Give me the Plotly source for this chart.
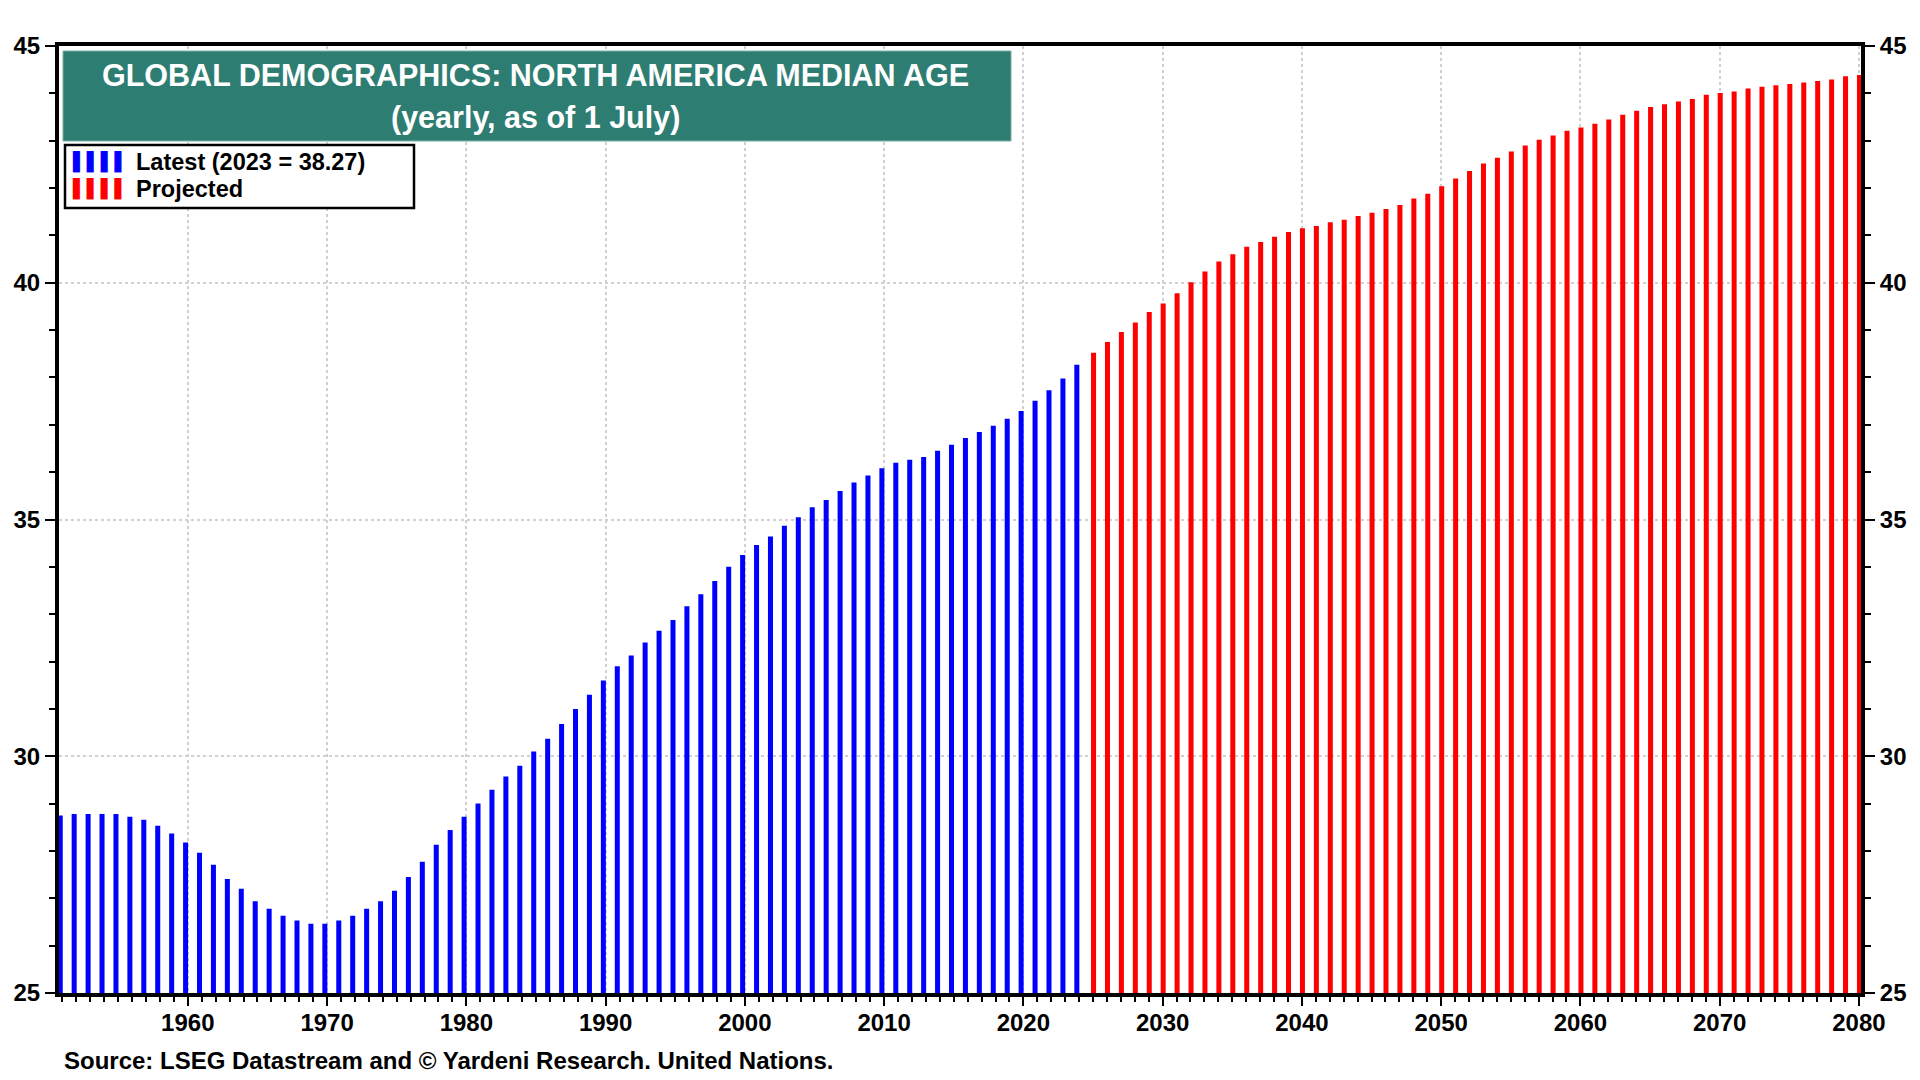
import plotly.graph_objects as go

# ---------------- data (median age, years) ----------------
blue_years = list(range(1950, 2024))
blue_values = [
    28.75, 28.78, 28.78, 28.78, 28.78, 28.72, 28.66, 28.53, 28.37, 28.18,  # 1950-59
    27.96, 27.71, 27.41, 27.20, 26.94, 26.78, 26.63, 26.53, 26.46, 26.46,  # 1960-69
    26.53, 26.63, 26.78, 26.94, 27.16, 27.45, 27.77, 28.13, 28.44, 28.72,  # 1970-79
    29.00, 29.29, 29.57, 29.80, 30.10, 30.37, 30.68, 31.00, 31.30, 31.60,  # 1980-89
    31.90, 32.13, 32.40, 32.65, 32.88, 33.17, 33.42, 33.70, 34.00, 34.25,  # 1990-99
    34.46, 34.64, 34.87, 35.05, 35.26, 35.41, 35.60, 35.78, 35.93, 36.08,  # 2000-09
    36.20, 36.26, 36.32, 36.45, 36.58, 36.72, 36.85, 36.98, 37.13, 37.29,  # 2010-19
    37.51, 37.73, 37.98, 38.27,                                            # 2020-23
]
red_years = list(range(2024, 2080))
red_values = [
    38.52, 38.75, 38.96, 39.16, 39.38, 39.56,                              # 2024-29
    39.78, 40.01, 40.24, 40.45, 40.60, 40.76, 40.86, 40.97, 41.07, 41.15,  # 2030-39
    41.20, 41.28, 41.33, 41.41, 41.48, 41.56, 41.64, 41.78, 41.88, 42.04,  # 2040-49
    42.20, 42.36, 42.52, 42.64, 42.77, 42.90, 43.02, 43.11, 43.21, 43.28,  # 2050-59
    43.36, 43.45, 43.55, 43.63, 43.71, 43.77, 43.83, 43.88, 43.97, 44.01,  # 2060-69
    44.04, 44.10, 44.14, 44.17, 44.20, 44.23, 44.26, 44.29, 44.36, 44.39,  # 2070-79
]
x_tick_values = list(range(1960, 2081, 10))
y_tick_values = [25, 30, 35, 40, 45]

title_line1 = "GLOBAL DEMOGRAPHICS: NORTH AMERICA MEDIAN AGE"
title_line2 = "(yearly, as of 1 July)"
source_text = "Source: LSEG Datastream and © Yardeni Research. United Nations."
latest_label = f"Latest ({blue_years[-1]} = {blue_values[-1]:.2f})"
projected_label = "Projected"

BLUE, RED = "#0000FF", "#FF0000"

# ---------------- layout helpers ----------------
W, H = 1920, 1080
ML, MR, MT, MB = 59, 59, 46, 87
PW, PH = W - ML - MR, H - MT - MB


def px(xp):
    return (xp - ML) / PW


def py(yp):
    return 1 - (yp - MT) / PH


FONT = "Liberation Sans, Arial, sans-serif"
BAR_W = 0.36

fig = go.Figure()
fig.add_bar(
    x=[y + 1 for y in blue_years], y=blue_values,
    width=BAR_W, offset=-BAR_W + 0.02,
    marker=dict(color=BLUE, line=dict(width=0)),
    name=latest_label,
)
fig.add_bar(
    x=[y + 1 for y in red_years], y=red_values,
    width=BAR_W, offset=-BAR_W / 2 + 0.04,
    marker=dict(color=RED, line=dict(width=0)),
    name=projected_label,
)
# invisible trace to activate the right-hand axis
fig.add_scatter(
    x=[blue_years[0] + 1], y=[blue_values[0]], yaxis="y2",
    mode="markers", marker=dict(opacity=0), showlegend=False, hoverinfo="skip",
)

tickfont = dict(family=FONT, size=24, color="black", weight="bold")
grid = dict(showgrid=True, gridcolor="#d0d0d0", griddash="dot", gridwidth=2)

legend_font = dict(family=FONT, size=23.5, color="black", weight="bold")
icon_font = dict(family="DejaVu Sans", size=18)
ICON = "▌▌▌▌"

fig.update_layout(
    width=W, height=H,
    margin=dict(l=ML, r=MR, t=MT, b=MB),
    paper_bgcolor="white", plot_bgcolor="white",
    barmode="overlay",
    showlegend=False,
    xaxis=dict(
        range=[1950.75, 2080.15],
        tickvals=x_tick_values,
        ticks="outside", ticklen=9, tickwidth=2, tickcolor="black",
        minor=dict(dtick=1, tick0=1950, ticks="outside", ticklen=5,
                   tickwidth=1.5, tickcolor="black", showgrid=False),
        showline=True, linewidth=4, linecolor="black", mirror=True,
        zeroline=False, tickfont=tickfont, ticklabelstandoff=-4,
        **grid,
    ),
    yaxis=dict(
        range=[25, 45], tickvals=y_tick_values,
        ticks="outside", ticklen=10, tickwidth=2, tickcolor="black",
        minor=dict(dtick=1, ticks="outside", ticklen=6, tickwidth=1.5,
                   tickcolor="black", showgrid=False),
        showline=True, linewidth=4, linecolor="black", mirror=True,
        zeroline=False, tickfont=tickfont,
        **grid,
    ),
    yaxis2=dict(
        overlaying="y", side="right",
        range=[25, 45], tickvals=y_tick_values,
        ticks="outside", ticklen=10, tickwidth=2, tickcolor="black",
        minor=dict(dtick=1, ticks="outside", ticklen=6, tickwidth=1.5,
                   tickcolor="black", showgrid=False),
        showline=True, linewidth=4, linecolor="black",
        showgrid=False, zeroline=False, tickfont=tickfont,
    ),
    shapes=[
        # title box
        dict(type="rect", xref="paper", yref="paper",
             x0=px(63), x1=px(1011), y0=py(141), y1=py(51),
             fillcolor="#2E7D72", line=dict(color="#7fb0a8", width=1),
             layer="above"),
        # legend box
        dict(type="rect", xref="paper", yref="paper",
             x0=px(65), x1=px(414), y0=py(208), y1=py(145),
             fillcolor="white", line=dict(color="black", width=2.5),
             layer="above"),
    ],
    annotations=[
        dict(xref="paper", yref="paper", x=px(535), y=py(75),
             text=title_line1, showarrow=False, xanchor="center", yanchor="middle",
             font=dict(family=FONT, size=30.5, color="white", weight="bold")),
        dict(xref="paper", yref="paper", x=px(535), y=py(117),
             text=title_line2, showarrow=False, xanchor="center", yanchor="middle",
             font=dict(family=FONT, size=30.5, color="white", weight="bold")),
        # legend entries
        dict(xref="paper", yref="paper", x=px(70), y=py(162),
             text=ICON, showarrow=False, xanchor="left", yanchor="middle",
             font=dict(**icon_font, color=BLUE)),
        dict(xref="paper", yref="paper", x=px(134), y=py(162),
             text=latest_label, showarrow=False, xanchor="left", yanchor="middle",
             font=legend_font),
        dict(xref="paper", yref="paper", x=px(70), y=py(189),
             text=ICON, showarrow=False, xanchor="left", yanchor="middle",
             font=dict(**icon_font, color=RED)),
        dict(xref="paper", yref="paper", x=px(134), y=py(189),
             text=projected_label, showarrow=False, xanchor="left", yanchor="middle",
             font=legend_font),
        dict(xref="paper", yref="paper", x=px(62), y=py(1060),
             text=source_text, showarrow=False, xanchor="left", yanchor="middle",
             font=dict(family=FONT, size=24, color="black", weight="bold")),
    ],
)

fig.write_html(
    "out.html",
    config={"displayModeBar": False},
    post_script="document.body.style.margin='0px';",
)
